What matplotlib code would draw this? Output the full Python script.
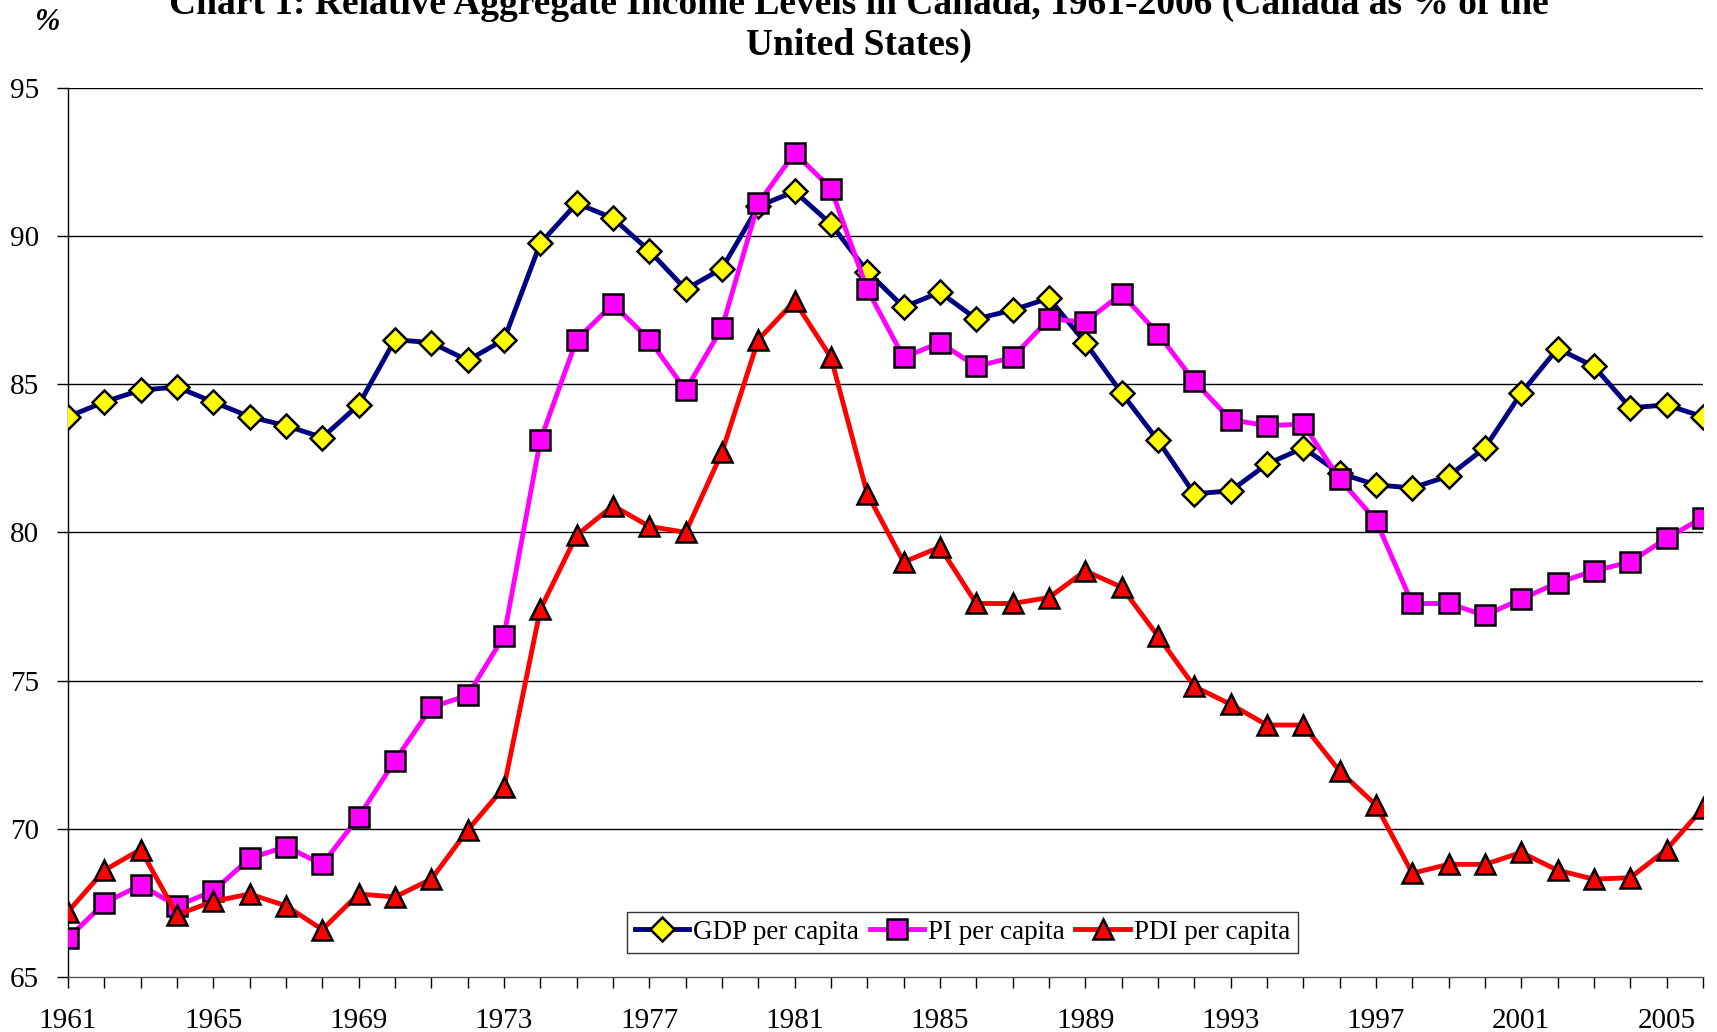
import matplotlib
matplotlib.use("Agg")
import matplotlib.pyplot as plt
import numpy as np

plt.rcParams['font.family'] = ['Liberation Serif', 'DejaVu Serif']

years = list(range(1961, 2007))
gdp = [83.9, 84.4, 84.8, 84.9, 84.4, 83.9, 83.6, 83.2, 84.3, 86.5,
       86.4, 85.8, 86.5, 89.75, 91.1, 90.6, 89.5, 88.2, 88.9, 91.0,
       91.5, 90.4, 88.8, 87.6, 88.1, 87.2, 87.5, 87.9, 86.4, 84.7,
       83.1, 81.3, 81.4, 82.3, 82.85, 82.0, 81.6, 81.5, 81.9, 82.85,
       84.7, 86.2, 85.6, 84.2, 84.3, 83.9]
pi = [66.3, 67.5, 68.1, 67.4, 67.9, 69.0, 69.4, 68.8, 70.4, 72.3,
      74.1, 74.5, 76.5, 83.1, 86.5, 87.7, 86.5, 84.8, 86.9, 91.1,
      92.8, 91.6, 88.2, 85.9, 86.4, 85.6, 85.9, 87.2, 87.1, 88.05,
      86.7, 85.1, 83.8, 83.6, 83.65, 81.8, 80.4, 77.6, 77.6, 77.2,
      77.75, 78.3, 78.7, 79.0, 79.8, 80.5]
pdi = [67.2, 68.6, 69.3, 67.1, 67.55, 67.8, 67.4, 66.6, 67.8, 67.7,
       68.3, 69.95, 71.4, 77.4, 79.9, 80.9, 80.2, 80.0, 82.7, 86.5,
       87.8, 85.9, 81.3, 79.0, 79.5, 77.6, 77.6, 77.8, 78.7, 78.15,
       76.5, 74.8, 74.2, 73.5, 73.5, 71.95, 70.8, 68.5, 68.8, 68.8,
       69.2, 68.6, 68.3, 68.35, 69.3, 70.7]
xtick_labels = [str(y) for y in range(1961, 2007, 4)]
yticks = [65, 70, 75, 80, 85, 90, 95]

fig = plt.figure(figsize=(17.17, 10.32), dpi=100)
ax = fig.add_axes([0.0396, 0.0533, 0.9522, 0.8617])

ax.set_axisbelow(True)
for yv in yticks[1:]:
    ax.axhline(yv, color='black', lw=1.0, zorder=0)

ax.plot(years, gdp, color='#000080', lw=3.5, marker='D', ms=12.5,
        mfc='#FFFF00', mec='black', mew=1.8, label='GDP per capita', zorder=3)
ax.plot(years, pi, color='#FF00FF', lw=3.5, marker='s', ms=14,
        mfc='#FF00FF', mec='black', mew=1.8, label='PI per capita', zorder=4)
ax.plot(years, pdi, color='#FF0000', lw=3.5, marker='^', ms=15,
        mfc='#FF0000', mec='black', mew=1.8, label='PDI per capita', zorder=5)

ax.set_xlim(1961, 2006)
ax.set_ylim(65, 95)
ax.set_yticks(yticks)
ax.set_yticklabels([str(v) for v in yticks], fontsize=21)
ax.set_xticks(years)
ax.set_xticklabels([str(y) if str(y) in xtick_labels else '' for y in years], fontsize=21)
ax.tick_params(axis='x', direction='out', length=8, width=1, pad=14)
ax.tick_params(axis='y', direction='out', length=8, width=1, pad=13)
for s in ['top', 'right']:
    ax.spines[s].set_visible(False)
ax.spines['left'].set_linewidth(1)
ax.spines['bottom'].set_linewidth(1)
ax.spines['bottom'].set_color('#555555')

leg = ax.legend(loc='lower center', bbox_to_anchor=(0.547, 0.012), ncol=3, fontsize=19.5,
                frameon=True, fancybox=False, edgecolor='black', handlelength=2.0,
                handletextpad=0.15, columnspacing=0.4, borderpad=0.3)
leg.get_frame().set_linewidth(1.0)
leg.set_zorder(10)

fig.text(0.5, 1 - 4 / 1032, "Chart 1: Relative Aggregate Income Levels in Canada, 1961-2006 (Canada as % of the",
         ha='center', va='center', fontsize=27, fontweight='bold')
fig.text(0.5, 1 - 45 / 1032, "United States)",
         ha='center', va='center', fontsize=27, fontweight='bold')
fig.text(0.027, 0.978, "%", ha='center', va='center', fontsize=22, fontweight='bold', style='italic')

fig.savefig('out.png', dpi=100)
